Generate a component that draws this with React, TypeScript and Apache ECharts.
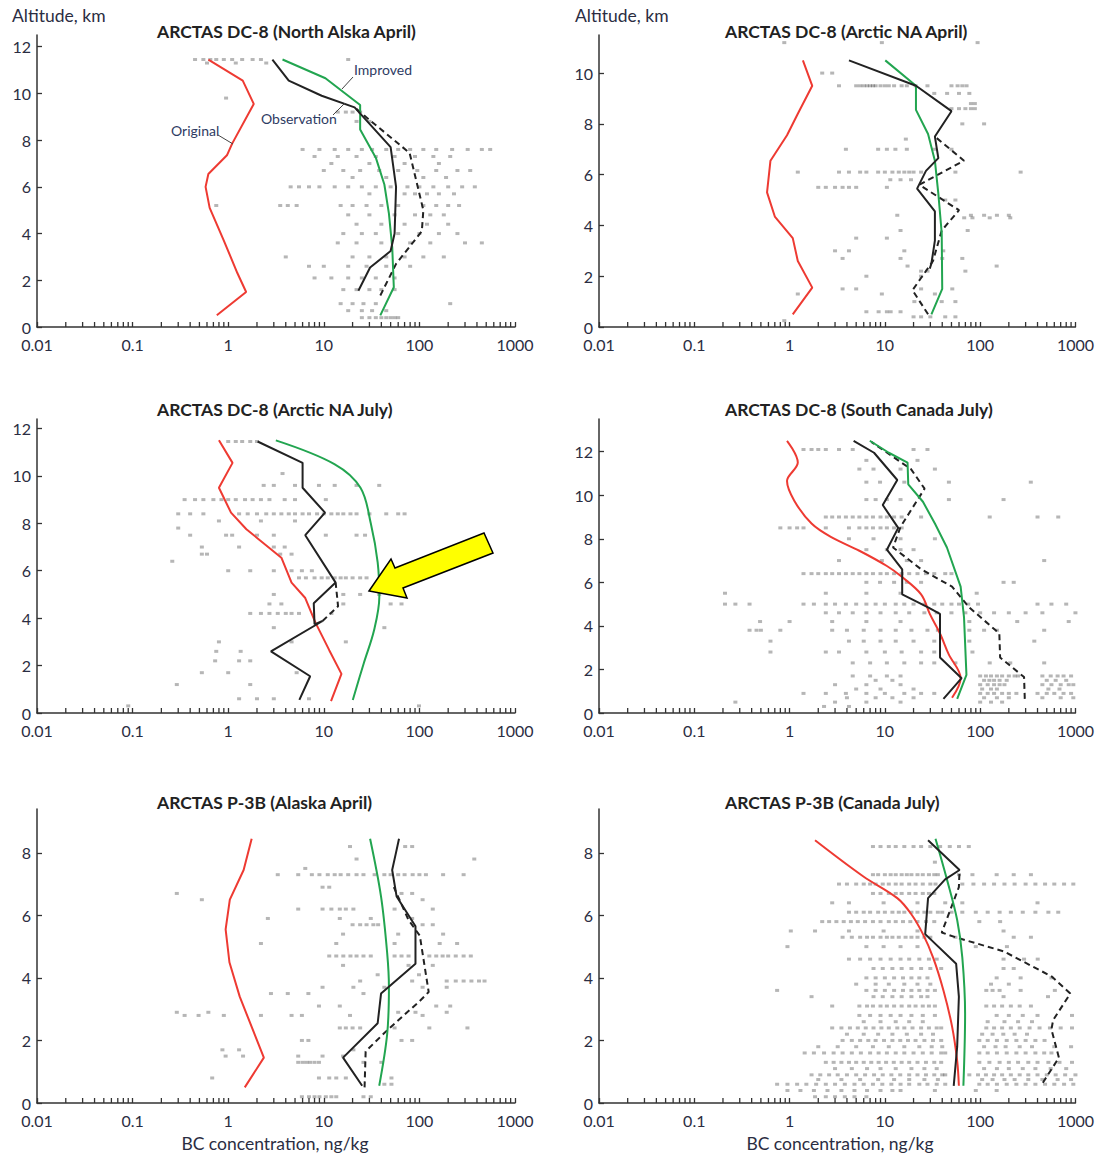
import { useEffect, useRef } from 'react';
import * as echarts from 'echarts';

type Pt = [number, number]; // [BC concentration ng/kg, altitude km]
type Row = [number, number[]]; // [altitude, concentrations observed on that level]

const xTickLabels = ['0.01', '0.1', '1', '10', '100', '1000'];
const panelTitles = [
  'ARCTAS DC-8 (North Alska April)',
  'ARCTAS DC-8 (Arctic NA April)',
  'ARCTAS DC-8 (Arctic NA July)',
  'ARCTAS DC-8 (South Canada July)',
  'ARCTAS P-3B (Alaska April)',
  'ARCTAS P-3B (Canada July)',
];
const yMaxes = [12.5, 11.5, 12.4, 13.5, 9.4, 9.4];
const yTickValues = [
  [0, 2, 4, 6, 8, 10, 12],
  [0, 2, 4, 6, 8, 10],
  [0, 2, 4, 6, 8, 10, 12],
  [0, 2, 4, 6, 8, 10, 12],
  [0, 2, 4, 6, 8],
  [0, 2, 4, 6, 8],
];

// ---------- Panel 1: North Alaska April ----------
const p1Original: Pt[] = [[0.76, 0.5], [1.54, 1.5], [1.25, 2.3], [0.9, 3.7], [0.64, 5.1], [0.58, 6.0], [0.62, 6.55], [0.97, 7.35], [1.1, 7.85], [1.85, 9.55], [1.42, 10.55], [0.62, 11.45]];
const p1Improved: Pt[] = [[39, 0.5], [54, 1.7], [52, 3.4], [48, 4.85], [43, 6.1], [35, 7.25], [24, 8.45], [24, 9.5], [10.4, 10.65], [3.7, 11.45]];
const p1Obs: Pt[] = [[23, 1.55], [30.5, 2.55], [50, 3.25], [55, 4.0], [57, 6.0], [50, 7.7], [21, 9.4], [9.5, 9.9], [4.3, 10.55], [2.9, 11.45]];
const p1Mean: Pt[] = [[39, 1.35], [57, 2.7], [106, 4.1], [110, 5.0], [79, 7.45], [26.5, 9.05], [21, 9.4]];
const p1Rows: Row[] = [
  [11.45, [0.45, 0.55, 0.65, 0.75, 0.9, 1.1, 1.4, 1.8, 2.2, 18]],
  [11.3, [0.6, 1.2, 2.5]],
  [9.8, [0.95]],
  [9.2, [14, 17, 20, 24]],
  [8.8, [22, 30]],
  [7.6, [6, 9, 13, 18, 25, 32, 45, 60, 80, 110, 150, 220, 320, 450, 550]],
  [7.3, [8, 14, 22, 35, 55, 90, 140, 210]],
  [7.0, [12, 30, 70, 160]],
  [6.7, [10, 16, 24, 38, 60, 95, 150, 250, 340]],
  [6.4, [20, 45, 110, 190]],
  [6.0, [4.5, 5.5, 7, 9, 13, 18, 25, 35, 50, 75, 100, 140, 200, 280, 380]],
  [5.7, [30, 70, 90, 120, 160, 230]],
  [5.2, [0.75, 3.5, 4.2, 5.2, 15, 20, 28, 40, 60, 110, 150, 200, 260]],
  [4.8, [18, 30, 55, 90, 130, 180]],
  [4.4, [22, 40, 70, 120, 200]],
  [4.0, [16, 25, 35, 60, 100, 160, 250]],
  [3.6, [14, 22, 40, 80, 130, 300, 450]],
  [3.0, [4, 20, 30, 45, 70, 110, 180]],
  [2.6, [7, 10, 18, 28, 45, 80]],
  [2.1, [8, 12, 18, 25, 35, 55]],
  [1.6, [16, 22, 30, 40, 55]],
  [1.0, [15, 20, 26, 35, 210]],
  [0.7, [18, 25, 32, 45]],
  [0.4, [25, 30, 35, 40, 45, 50, 55, 60]],
];

// ---------- Panel 2: Arctic NA April ----------
const p2Original: Pt[] = [[1.08, 0.5], [1.73, 1.55], [1.22, 2.6], [1.08, 3.5], [0.7, 4.35], [0.58, 5.3], [0.63, 6.55], [0.94, 7.55], [1.22, 8.4], [1.73, 9.5], [1.38, 10.5]];
const p2Improved: Pt[] = [[30.8, 0.5], [40, 1.5], [39.5, 3.7], [36.4, 5.25], [33.5, 6.55], [28.4, 7.6], [21.2, 8.55], [21.2, 9.5], [10.1, 10.5]];
const p2Obs: Pt[] = [[29.6, 2.3], [30.8, 2.5], [33.5, 3.4], [33.5, 4.55], [21.8, 5.45], [27, 6.15], [36.4, 6.65], [33.5, 7.5], [50, 8.5], [21.2, 9.5], [4.2, 10.5]];
const p2Mean: Pt[] = [[28.4, 0.5], [19.5, 1.45], [32, 2.6], [39.5, 3.8], [60, 4.6], [23, 5.6], [67.7, 6.55], [33.5, 7.5]];
const p2Rows: Row[] = [
  [11.2, [0.88, 9.3, 94]],
  [10.0, [2.2, 2.8]],
  [9.5, [3.3, 5, 5.5, 6, 6.5, 7, 7.5, 8, 9, 10, 11, 12.5, 15, 17, 21, 28, 50, 58, 65, 72]],
  [9.2, [33, 45, 60, 77]],
  [8.8, [80, 88]],
  [8.6, [50, 60, 70, 80, 88]],
  [8.0, [65, 110]],
  [7.4, [16.6]],
  [7.0, [3.9, 8.5, 10.5, 12.9, 17, 33, 50]],
  [6.1, [1.22, 3.3, 4.2, 5.5, 6.4, 8.5, 10, 12, 14, 16, 18, 20, 24, 55, 266]],
  [5.8, [11.4, 14.6, 18.8]],
  [5.5, [2.0, 2.4, 3.0, 3.6, 4.2, 5.0, 10.5]],
  [5.0, [43, 55]],
  [4.4, [13.5, 80, 110, 150, 200]],
  [4.3, [68, 83, 126, 207]],
  [3.8, [14.6, 74]],
  [3.5, [5, 10.5]],
  [3.0, [3.0, 4.2, 16, 41]],
  [2.7, [3.6, 14.6, 40, 65]],
  [2.4, [17.3, 149]],
  [2.2, [24, 28, 70]],
  [2.0, [6.4, 24]],
  [1.5, [3.6, 5, 24, 51]],
  [1.3, [1.22, 9.3, 33.5]],
  [1.0, [20.4, 39.5, 55]],
  [0.6, [6.4, 8.6, 10.5, 11.5, 14.6]],
  [0.4, [20, 24, 30, 43, 55]],
  [0.25, [0.88]],
];

// ---------- Panel 3: Arctic NA July ----------
const p3Original: Pt[] = [[11.9, 0.5], [15.3, 1.65], [11.4, 2.65], [8.2, 3.8], [6.4, 4.85], [4.6, 5.5], [3.6, 6.55], [1.55, 7.75], [1.07, 8.45], [0.8, 9.5], [1.11, 10.55], [0.8, 11.5]];
const p3Improved: Pt[] = [[20.1, 0.55], [26.2, 2.1], [33.6, 3.5], [38.1, 4.9], [36.6, 6.35], [31, 8.0], [24.2, 9.5], [12.9, 10.5], [3.15, 11.5]];
const p3Obs: Pt[] = [[5.55, 0.55], [7.2, 1.55], [2.8, 2.6], [9.7, 3.88], [8.0, 3.74], [7.85, 4.63], [13.3, 5.5], [6.4, 7.5], [10.3, 8.45], [6.0, 9.5], [6.0, 10.55], [2.03, 11.45]];
const p3Mean: Pt[] = [[9.7, 3.88], [11.4, 4.15], [14.1, 4.5], [13.3, 5.5]];
const p3Rows: Row[] = [
  [11.45, [1.0, 1.2, 1.4, 1.7, 2.0]],
  [10.1, [3.7]],
  [9.6, [2.35, 3.0, 5.0, 8.9, 13, 22, 38]],
  [9.0, [0.35, 0.45, 0.55, 0.7, 0.85, 1.0, 1.2, 1.5, 1.8, 2.2, 2.7, 3.9, 5.0, 10.5]],
  [8.4, [0.3, 0.4, 0.55, 1.3, 1.6, 2.0, 2.5, 3.0, 3.6, 4.3, 5, 6, 7, 8.5, 10, 12, 14, 16, 19, 22, 30, 45, 60, 70]],
  [8.1, [0.8, 2.2, 5]],
  [7.8, [0.3]],
  [7.5, [0.4, 0.95, 1.1, 2.0, 3.0, 10.5, 22, 27]],
  [7.0, [0.53, 1.3, 3.0, 3.9]],
  [6.7, [0.53, 0.6, 3.5, 4.6]],
  [6.4, [0.26]],
  [6.0, [1.0, 1.7, 3.0, 4.6, 5.9, 7.5]],
  [5.7, [5.5, 6.5, 8, 9.5, 11, 13, 15, 17, 20, 24, 28]],
  [5.0, [3.0, 16, 24, 38, 65]],
  [4.6, [2.7, 3.6, 16, 50, 65]],
  [4.2, [1.7, 2.2, 2.7, 3.3, 4, 4.6, 5.5, 12]],
  [3.6, [3.0, 43]],
  [3.0, [0.8, 4.6, 17]],
  [2.6, [0.75, 1.35]],
  [2.2, [0.73, 1.3, 1.7]],
  [1.7, [0.53, 1.0, 5.2]],
  [1.2, [0.29, 1.7]],
  [0.6, [1.3, 2.0, 3.0, 7]],
  [0.3, [0.09, 99]],
];

// ---------- Panel 4: South Canada July ----------
const p4Original: Pt[] = [[50.7, 0.7], [62.4, 1.6], [46.7, 2.7], [37.9, 3.65], [29.6, 4.55], [24, 5.45], [14.6, 6.3], [10.5, 6.75], [5.4, 7.45], [2.8, 8.05], [1.7, 8.7], [1.12, 9.75], [0.94, 10.65], [1.22, 11.5], [0.94, 12.5]];
const p4Improved: Pt[] = [[57.4, 0.65], [71.8, 1.75], [67.7, 4.4], [62.4, 5.8], [44.8, 7.6], [33.5, 8.7], [25.1, 9.7], [17.6, 10.5], [17.3, 11.5], [11, 11.95], [6.95, 12.5]];
const p4Obs: Pt[] = [[41.2, 0.65], [63.9, 1.6], [37.9, 2.55], [37.9, 4.55], [28.4, 4.85], [15.2, 5.45], [15.2, 6.6], [10.5, 7.5], [13.8, 8.5], [9.5, 9.55], [13.5, 10.7], [7.7, 11.95], [4.7, 12.5]];
const p4Mean: Pt[] = [[294, 0.65], [289, 1.65], [162, 2.55], [159, 3.65], [76.7, 4.85], [50.7, 5.8], [24, 6.6], [12.2, 7.6], [14.6, 8.55], [26.1, 10.3], [18.8, 11.2], [7.2, 12.45]];
const p4Rows: Row[] = [
  [12.1, [1.4, 1.7, 2.0, 2.4, 3.3, 4.6, 20, 28]],
  [11.6, [6.4, 22]],
  [11.2, [5.4, 7.6, 14.6, 33.5]],
  [10.6, [6.4, 8.9, 16, 47, 340]],
  [9.8, [6.4, 8, 10.5, 14.6, 47, 176]],
  [9.0, [2.4, 2.8, 3.3, 3.9, 4.6, 5.4, 6.4, 7.5, 9, 10.5, 12.5, 15, 24, 126, 400, 660]],
  [8.5, [0.8, 1.0, 1.2, 1.4, 2.4, 4.2, 5.4, 6.4, 7.5, 9, 10.5, 12.5, 15]],
  [8.0, [4.2, 7.6, 14.6, 33.5]],
  [7.5, [6.4, 10.5, 14.6, 20]],
  [7.0, [3.3, 9.3, 17, 24, 470]],
  [6.4, [1.4, 1.7, 2.0, 2.4, 2.8, 3.3, 3.9, 4.6, 5.4, 6.4, 7.5, 9, 10.5, 12.5, 15, 18, 22, 27, 33, 43, 50]],
  [6.0, [6.4, 8.9, 12.5, 17, 24, 176, 225]],
  [5.5, [0.21, 2.4, 6.4, 14.6, 92]],
  [5.0, [0.21, 0.27, 0.38, 1.4, 1.8, 2.4, 3.0, 3.9, 5, 6.4, 8, 10, 13, 16, 20, 26, 33, 40, 50, 60, 75, 95, 400, 560, 800]],
  [4.6, [2.4, 3.3, 4.6, 6.4, 9, 13, 18, 26, 35, 50, 70, 100, 140, 200, 300, 450, 1000]],
  [4.2, [0.49, 1.0, 2.8, 6.4, 14.6, 77, 245, 850]],
  [3.8, [0.38, 0.45, 0.5, 0.8, 2.8, 4, 6, 9, 13, 19, 28, 36, 77, 110, 150, 470]],
  [3.3, [0.63, 4.2, 6, 9, 13, 20, 33, 77, 370]],
  [2.8, [0.63, 2.4, 3.3, 6.4, 10, 15, 24, 33, 83]],
  [2.3, [4.6, 7, 10.5, 16, 24, 33, 55, 126, 207, 470]],
  [1.7, [4.6, 7, 10.5, 14.6, 100, 115, 130, 150, 170, 200, 230, 250, 450, 550, 650, 750, 900]],
  [1.5, [8, 12, 110, 125, 140, 160, 190, 500, 620, 800]],
  [1.3, [3.0, 6.4, 14.6, 100, 120, 140, 160, 180, 450, 560, 700, 850, 950]],
  [1.1, [5, 9, 20, 105, 130, 150, 520, 680]],
  [0.9, [1.4, 2.4, 3.9, 6.4, 10, 16, 24, 33, 100, 120, 140, 170, 200, 240, 400, 500, 600, 750, 900]],
  [0.7, [4, 8, 12, 20, 110, 150, 200, 450, 700, 950]],
  [0.5, [0.27, 3, 6.4, 14.6, 100, 130, 170]],
  [0.3, [2.3, 4.2]],
];

// ---------- Panel 5: P-3B Alaska April ----------
const p5Original: Pt[] = [[1.49, 0.5], [2.36, 1.45], [1.32, 3.4], [1.03, 4.5], [0.94, 5.55], [1.04, 6.5], [1.45, 7.45], [1.76, 8.45]];
const p5Improved: Pt[] = [[38, 0.55], [46, 2.2], [48, 3.7], [46, 4.8], [39.7, 6.6], [30.5, 8.45]];
const p5Obs: Pt[] = [[25.2, 0.55], [15.9, 1.45], [36.6, 2.55], [39.7, 3.5], [91, 4.45], [91, 5.65], [57.8, 6.6], [51.9, 7.45], [56.4, 7.95], [61.2, 8.45]];
const p5Mean: Pt[] = [[26.7, 0.5], [27.4, 1.65], [46.9, 2.35], [100, 3.25], [125, 3.55], [101, 5.35], [77, 5.85], [54, 6.9]];
const p5Rows: Row[] = [
  [8.2, [18.8, 71, 84]],
  [7.8, [22, 375]],
  [7.5, [6.4]],
  [7.3, [3.3, 5.4, 7.5, 9, 11, 13, 15, 18, 22, 26, 34, 43, 50, 60, 70, 85, 100, 117, 177, 290]],
  [6.9, [9.7, 11.4]],
  [6.7, [0.29, 65, 84]],
  [6.5, [0.53, 108]],
  [6.2, [5.4, 9.7, 12, 14.7, 17, 20.4, 55, 138]],
  [5.9, [2.6, 14.7, 31, 84]],
  [5.7, [20, 24, 28, 33, 37, 108, 138]],
  [5.4, [15.9, 60, 177]],
  [5.1, [2.2, 13.5, 55, 163, 248]],
  [4.7, [11.4, 13.5, 16, 19, 22, 26, 31, 55, 65, 77, 127, 150, 175, 200, 240, 290, 345]],
  [4.4, [15.9, 77, 138]],
  [4.1, [36.6, 99]],
  [3.9, [24, 84, 193, 240, 290, 350, 420, 480]],
  [3.7, [9.7, 20.4, 43, 108, 193]],
  [3.5, [2.8, 4.2, 6.9, 26]],
  [3.1, [8.9, 14.7, 150, 210]],
  [2.9, [0.29, 0.62, 60, 91, 193]],
  [2.8, [0.35, 0.49, 0.9, 2.2, 4.6, 5.9, 18.8, 108]],
  [2.4, [14.7, 17, 20, 24, 55, 127, 318]],
  [2.0, [5.9, 6.9, 65, 84]],
  [1.7, [0.87, 1.3, 20.4]],
  [1.5, [0.94, 1.43, 5.4, 9.7, 15.9]],
  [1.3, [5.4, 6, 6.6, 7.2, 8, 8.9, 26, 40]],
  [0.8, [0.68, 8.9, 11.4, 13.5, 17, 51]],
  [0.6, [43, 51]],
  [0.2, [5.9, 7, 8, 9, 10.5, 12, 13.5, 26, 31]],
];

// ---------- Panel 6: P-3B Canada July ----------
const p6Original: Pt[] = [[59.8, 0.55], [57.4, 1.35], [50.7, 2.45], [41.2, 3.6], [32.1, 4.65], [25.1, 5.4], [18.8, 6.05], [13.5, 6.55], [5.9, 7.25], [1.85, 8.4]];
const p6Improved: Pt[] = [[66.7, 0.55], [69.5, 2.85], [65, 4.65], [57.4, 5.85], [44.8, 7.15], [34, 8.45]];
const p6Obs: Pt[] = [[52.8, 0.55], [57.4, 1.8], [59.8, 3.4], [56, 4.45], [26.5, 5.4], [28.4, 6.55], [42.9, 7.15], [60.8, 7.45], [28.4, 8.4]];
const p6Mean: Pt[] = [[455, 0.65], [671, 1.45], [560, 2.35], [583, 2.65], [883, 3.5], [560, 4.05], [176, 4.85], [55, 5.3], [39.5, 5.45], [59.8, 6.9], [60.8, 7.45]];
const p6Rows: Row[] = [
  [8.2, [7.5, 9, 11, 13, 16, 20, 24, 30, 38, 48, 60, 76]],
  [7.7, [33.5]],
  [7.3, [7.5, 8.5, 10, 11.5, 13, 15, 17, 19, 22, 25, 29, 33, 36, 60, 83, 149, 225, 341]],
  [7.0, [3.3, 4, 5, 6, 7, 8, 9.5, 11, 13, 15, 18, 21, 25, 30, 34, 65, 85, 110, 140, 180, 230, 300, 380, 480, 600, 760, 950]],
  [6.7, [7.5, 9, 11, 13, 15, 18, 21, 25, 29, 33]],
  [6.4, [2.8, 4.2, 9.7, 22, 43, 65, 400]],
  [6.1, [4.2, 5, 6, 7, 8.5, 10, 12, 14, 16, 19, 22, 26, 30, 36, 40, 50, 65, 90, 120, 160, 210, 280, 380, 520, 660]],
  [5.8, [2.2, 2.6, 3.1, 3.7, 4.4, 5.2, 6.2, 7.5, 9, 11, 13, 15.5, 18.5, 22, 27, 33, 98, 162]],
  [5.5, [1.03, 1.85, 4.2, 9.7, 22, 176]],
  [5.3, [3.6, 4.5, 5.5, 6.5, 7.5, 9, 10.5, 12, 14, 16.5, 19, 22, 26, 30, 55, 225, 341]],
  [5.0, [0.95, 6.4, 9.7, 14.6, 22, 90, 191]],
  [4.6, [4.2, 5.5, 7, 9, 11.5, 14.6, 18, 23, 29, 35, 176, 289, 402]],
  [4.3, [7.6, 9.5, 12, 15, 19, 24, 30, 39, 176, 225]],
  [4.0, [6.4, 8, 10, 12.5, 15.5, 19, 23, 28, 149, 266, 560]],
  [3.8, [5, 8, 11, 16, 22, 30, 130, 200]],
  [3.6, [0.74, 6.4, 8, 10, 12.5, 15.5, 19, 23, 28, 33.5, 116, 135, 160, 266, 608]],
  [3.4, [1.7, 7.6, 9.5, 12, 15, 19, 24, 28, 176, 515]],
  [3.1, [2.8, 5.4, 6.5, 7.5, 9, 10.5, 12.5, 15, 18, 21, 25, 29, 33.5, 116, 140, 170, 210, 260, 341]],
  [2.8, [5.4, 7, 9, 11.5, 14.6, 19, 25, 33.5, 149, 200, 280, 400, 920]],
  [2.6, [6, 9, 13, 18, 25, 120, 180, 250, 350]],
  [2.4, [2.8, 3.5, 4.3, 5.2, 6.3, 7.6, 9.2, 11, 13.5, 16, 19.5, 24, 29, 35, 39, 116, 140, 170, 210, 260, 330, 420, 540, 700, 920]],
  [2.2, [4, 6, 8.5, 12, 17, 24, 32, 105, 135, 175, 230, 310]],
  [2.0, [3.6, 4.5, 5.5, 6.7, 8, 9.8, 12, 14.5, 17.5, 21, 26, 32, 39, 98, 120, 150, 190, 240, 300, 380, 474]],
  [1.8, [2, 3.2, 5, 7.5, 11, 16, 23, 31, 40, 110, 145, 185, 260, 350, 600, 900]],
  [1.6, [1.44, 1.8, 2.3, 2.9, 3.6, 4.5, 5.6, 7, 8.6, 10.5, 13, 16, 20, 25, 31, 39, 43, 98, 120, 150, 190, 240, 300, 380, 470, 560]],
  [1.3, [2.4, 2.9, 3.5, 4.2, 5, 6, 7.2, 8.6, 10.3, 12.4, 15, 18, 22, 27, 33, 39, 98, 125, 160, 200, 250, 320, 400, 520, 680, 920]],
  [1.1, [3, 4.5, 6.5, 9, 13, 19, 26, 35, 110, 150, 200, 280, 380, 550, 800]],
  [0.9, [1.7, 2.1, 2.6, 3.2, 4, 5, 6.2, 7.7, 9.5, 11.7, 14.5, 18, 22, 27, 33, 40, 43, 77, 95, 115, 140, 170, 210, 260, 320, 400, 500, 620, 780, 1000]],
  [0.75, [2, 3.5, 5.5, 8.5, 12.5, 18, 26, 36, 105, 135, 180, 230, 320, 450, 650, 900]],
  [0.6, [0.74, 0.95, 1.2, 1.5, 1.9, 2.4, 3, 3.8, 4.8, 6, 7.5, 9.4, 11.7, 14.6, 18, 23, 28, 35, 43, 98, 120, 150, 190, 240, 300, 380, 480, 600, 760, 950]],
  [0.4, [0.95, 1.3, 1.8, 2.5, 3.5, 4.8, 6.5, 9, 12, 14.6, 33.5, 90, 149]],
  [0.2, [1.85, 2.4, 3, 3.8, 4.8, 6.4]],
];

const panels = [
  { rows: p1Rows, original: p1Original, improved: p1Improved, obs: p1Obs, mean: p1Mean, smoothG: false, smoothR: false },
  { rows: p2Rows, original: p2Original, improved: p2Improved, obs: p2Obs, mean: p2Mean, smoothG: false, smoothR: false },
  { rows: p3Rows, original: p3Original, improved: p3Improved, obs: p3Obs, mean: p3Mean, smoothG: true, smoothR: false },
  { rows: p4Rows, original: p4Original, improved: p4Improved, obs: p4Obs, mean: p4Mean, smoothG: false, smoothR: true },
  { rows: p5Rows, original: p5Original, improved: p5Improved, obs: p5Obs, mean: p5Mean, smoothG: true, smoothR: false },
  { rows: p6Rows, original: p6Original, improved: p6Improved, obs: p6Obs, mean: p6Mean, smoothG: true, smoothR: true },
];

// layout
const grids = [
  { left: 37, top: 35, width: 478, height: 292 },
  { left: 599, top: 35, width: 478, height: 292 },
  { left: 37, top: 419, width: 478, height: 294 },
  { left: 599, top: 419, width: 478, height: 294 },
  { left: 37, top: 809, width: 478, height: 294 },
  { left: 599, top: 809, width: 478, height: 294 },
];
const titlePos = [[157, 31], [725, 31], [157, 409], [725, 409], [157, 802], [725, 802]];

const FONT = 'Lato, "Open Sans", "Noto Sans", sans-serif';
const TXT = '#2b2d42';
const AX = '#333';
const RED = '#ee3a32';
const GREEN = '#22a550';
const BLACK = '#222';

const minorTickValues: number[] = [];
for (let e = -2; e < 3; e++) {
  for (let m = 2; m <= 9; m++) minorTickValues.push(m * Math.pow(10, e));
}

function buildOption() {
  const xAxis: any[] = [];
  const yAxis: any[] = [];
  const series: any[] = [];
  panels.forEach((p, i) => {
    xAxis.push({
      type: 'log', logBase: 10, gridIndex: i, min: 0.01, max: 1000,
      axisLine: { show: true, onZero: false, lineStyle: { color: AX, width: 1.5 } },
      axisTick: { show: true, inside: true, length: 5, lineStyle: { color: AX, width: 1.3 } },
      axisLabel: {
        show: true, fontSize: 16, lineHeight: 16, color: TXT, fontFamily: FONT, margin: 9,
        formatter: (v: number) => xTickLabels[Math.round(Math.log10(v)) + 2] ?? '',
      },
      splitLine: { show: false },
    });
    yAxis.push({
      type: 'value', gridIndex: i, min: 0, max: yMaxes[i],
      axisLine: { show: true, onZero: false, lineStyle: { color: AX, width: 1.5 } },
      axisTick: { show: true, inside: true, length: 5, lineStyle: { color: AX, width: 1.3 }, customValues: yTickValues[i] },
      axisLabel: {
        show: true, fontSize: 16, lineHeight: 13, color: TXT, fontFamily: FONT, margin: 6,
        padding: [0, 0, 5, 0], customValues: yTickValues[i],
      },
      splitLine: { show: false },
    });
    const pts: number[][] = [];
    p.rows.forEach(([alt, vals]) => vals.forEach((v) => pts.push([v, alt])));
    series.push({
      type: 'scatter', xAxisIndex: i, yAxisIndex: i, data: pts, symbol: 'rect', symbolSize: [4, 3],
      itemStyle: { color: 'rgba(40,40,40,0.42)' }, silent: true, z: 1,
    });
    series.push({
      type: 'custom', xAxisIndex: i, yAxisIndex: i, silent: true, z: 3,
      data: minorTickValues.map((v) => [v, 0]),
      renderItem: (_params: any, api: any) => {
        const c = api.coord([api.value(0), 0]);
        return {
          type: 'line',
          shape: { x1: c[0], y1: c[1], x2: c[0], y2: c[1] - 5 },
          style: { stroke: AX, lineWidth: 1.3 },
        };
      },
    });
    const line = (data: Pt[], color: string, dashed: boolean, smooth: boolean) => ({
      type: 'line', xAxisIndex: i, yAxisIndex: i, data, showSymbol: false, symbol: 'none',
      smooth: smooth ? 0.35 : false, silent: true, z: 4,
      lineStyle: { color, width: 2, type: dashed ? [6, 4] : 'solid' },
    });
    series.push(line(p.mean, BLACK, true, false));
    series.push(line(p.original, RED, false, p.smoothR));
    series.push(line(p.improved, GREEN, false, p.smoothG));
    series.push(line(p.obs, BLACK, false, false));
  });

  const graphic: any[] = [];
  panelTitles.forEach((t, i) => {
    graphic.push({
      type: 'text', x: titlePos[i][0], y: titlePos[i][1],
      style: { text: t, fontSize: 17.5, fontWeight: 'bold', fontFamily: FONT, fill: '#222', align: 'left', verticalAlign: 'middle' },
    });
  });
  [12, 575].forEach((x) => {
    graphic.push({
      type: 'text', x, y: 15,
      style: { text: 'Altitude, km', fontSize: 17.5, fontFamily: FONT, fill: TXT, align: 'left', verticalAlign: 'middle' },
    });
  });
  [275, 840].forEach((x) => {
    graphic.push({
      type: 'text', x, y: 1143,
      style: { text: 'BC concentration, ng/kg', fontSize: 17.5, fontFamily: FONT, fill: TXT, align: 'center', verticalAlign: 'middle' },
    });
  });
  // curve labels in first panel
  const lbl = (text: string, x: number, y: number) => ({
    type: 'text', x, y, z: 10,
    style: { text, fontSize: 14, fontFamily: FONT, fill: '#2e3b63', align: 'left', verticalAlign: 'middle' },
  });
  const leader = (x1: number, y1: number, x2: number, y2: number) => ({
    type: 'line', z: 10, shape: { x1, y1, x2, y2 }, style: { stroke: '#444', lineWidth: 1 },
  });
  graphic.push(lbl('Improved', 354, 69));
  graphic.push(leader(353, 77, 342, 89));
  graphic.push(lbl('Observation', 261, 118));
  graphic.push(leader(333, 115, 345, 103));
  graphic.push(lbl('Original', 171, 130));
  graphic.push(leader(218, 135, 233, 144));
  // yellow arrow
  graphic.push({
    type: 'polygon', z: 20,
    shape: { points: [[369, 591], [391, 559], [395, 568], [484, 533], [493, 553], [403, 588], [407, 598]] },
    style: { fill: '#ffff00', stroke: '#000', lineWidth: 1.5 },
  });

  return {
    animation: false,
    backgroundColor: '#fff',
    textStyle: { fontFamily: FONT },
    grid: grids.map((g) => ({ ...g, containLabel: false })),
    xAxis, yAxis, series, graphic,
  };
}

export default function App() {
  const ref = useRef<HTMLDivElement>(null);
  useEffect(() => {
    if (!ref.current) return;
    const chart = echarts.init(ref.current, undefined, { renderer: 'svg' });
    chart.setOption(buildOption() as any);
    return () => chart.dispose();
  }, []);
  return (
    <div
      ref={ref}
      style={{ position: 'absolute', left: 0, top: 0, width: 1097, height: 1153, background: '#fff' }}
    />
  );
}
